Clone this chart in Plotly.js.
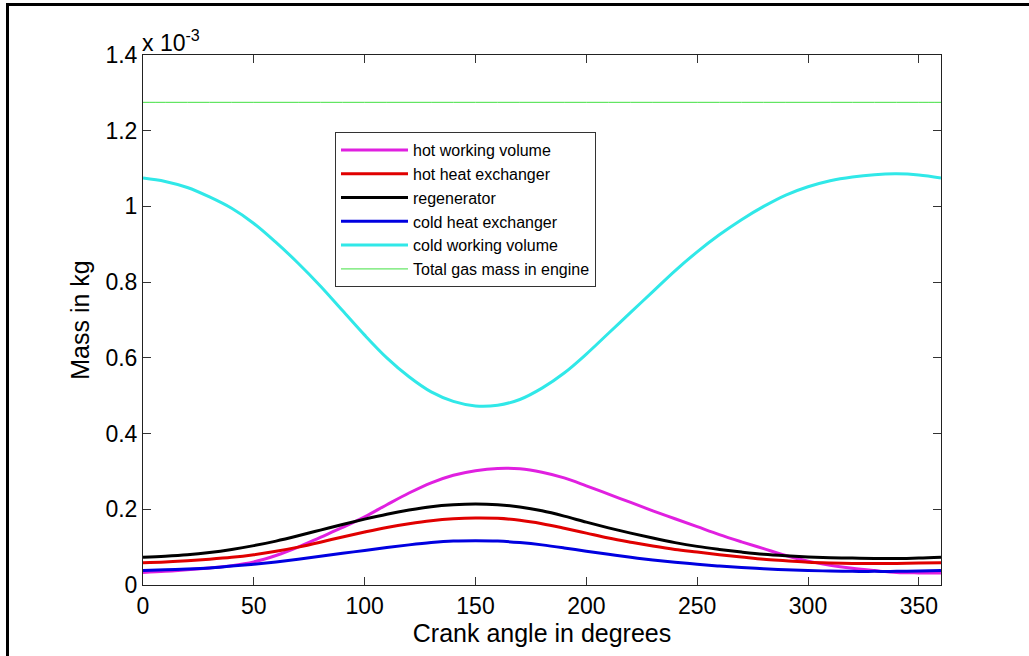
<!DOCTYPE html>
<html>
<head>
<meta charset="utf-8">
<script src="https://cdn.plot.ly/plotly-3.0.1.min.js"></script>
<style>
html,body{margin:0;padding:0;background:#fff;}
#wrap{position:absolute;left:0;top:0;width:1029px;height:656px;overflow:hidden;}
#frame{position:absolute;left:6px;top:3px;width:1040px;height:680px;border-left:3px solid #000;border-top:3px solid #000;box-sizing:border-box;pointer-events:none;z-index:5;}
#chart{position:absolute;left:0;top:0;width:1029px;height:656px;}
</style>
</head>
<body>
<div id="wrap"><div id="chart"></div><div id="frame"></div></div>
<script>
// Crank angle (degrees)
const crankAngle = [0,10,20,30,40,50,60,70,80,90,100,110,120,130,140,150,160,170,180,190,200,210,220,230,240,250,260,270,280,290,300,310,320,330,340,350,360];
// Mass values in units of 1e-3 kg
const hotWorkingVolume = [0.033,0.036,0.040,0.045,0.051,0.061,0.078,0.100,0.126,0.152,0.180,0.212,0.243,0.270,0.290,0.302,0.308,0.307,0.298,0.283,0.262,0.240,0.218,0.196,0.175,0.154,0.133,0.114,0.096,0.078,0.063,0.052,0.044,0.038,0.033,0.032,0.032];
const hotHeatExchanger = [0.059,0.061,0.064,0.068,0.073,0.080,0.089,0.100,0.113,0.127,0.140,0.152,0.162,0.170,0.175,0.177,0.176,0.171,0.162,0.150,0.137,0.124,0.113,0.103,0.094,0.087,0.080,0.074,0.068,0.064,0.060,0.058,0.057,0.057,0.057,0.058,0.059];
const regenerator = [0.073,0.076,0.080,0.086,0.094,0.104,0.116,0.130,0.145,0.160,0.174,0.187,0.198,0.207,0.212,0.214,0.212,0.206,0.196,0.182,0.166,0.151,0.137,0.124,0.112,0.102,0.094,0.087,0.081,0.077,0.074,0.072,0.071,0.070,0.070,0.071,0.073];
const coldHeatExchanger = [0.038,0.040,0.042,0.045,0.050,0.055,0.061,0.068,0.076,0.084,0.091,0.099,0.106,0.112,0.116,0.117,0.116,0.112,0.106,0.098,0.089,0.081,0.073,0.066,0.060,0.055,0.050,0.046,0.043,0.040,0.038,0.037,0.036,0.036,0.036,0.037,0.038];
const coldWorkingVolume = [1.075,1.066,1.050,1.025,0.995,0.955,0.905,0.850,0.790,0.725,0.660,0.600,0.550,0.510,0.485,0.473,0.475,0.490,0.520,0.560,0.610,0.665,0.720,0.775,0.830,0.880,0.925,0.965,1.000,1.030,1.052,1.068,1.078,1.084,1.086,1.083,1.075];
const totalMass = [1.275,1.275,1.275,1.275,1.275,1.275,1.275,1.275,1.275,1.275,1.275,1.275,1.275,1.275,1.275,1.275,1.275,1.275,1.275,1.275,1.275,1.275,1.275,1.275,1.275,1.275,1.275,1.275,1.275,1.275,1.275,1.275,1.275,1.275,1.275,1.275,1.275];

const seriesNames = ["hot working volume","hot heat exchanger","regenerator","cold heat exchanger","cold working volume","Total gas mass in engine"];
const xTicks = [0,50,100,150,200,250,300,350];
const yTicks = [0,0.2,0.4,0.6,0.8,1.0,1.2,1.4];
const yTickLabels = ["0","0.2","0.4","0.6","0.8","1","1.2","1.4"];

const seriesData = [hotWorkingVolume, hotHeatExchanger, regenerator, coldHeatExchanger, coldWorkingVolume, totalMass];
const seriesColors = ["#e020e0","#e00000","#000000","#0000e0","#30e8e8","#40e040"];
const seriesWidths = [3,3,3,3,3,1];

const traces = seriesData.map((ys, i) => ({
  x: crankAngle, y: ys, name: seriesNames[i], type: "scatter", mode: "lines",
  line: {color: seriesColors[i], width: seriesWidths[i], shape: "spline", smoothing: 1}
}));

const font = "Liberation Sans, Arial, sans-serif";
const layout = {
  width: 1029, height: 656,
  margin: {l: 143, r: 88, t: 55, b: 71, pad: 0},
  paper_bgcolor: "#fff", plot_bgcolor: "#fff",
  showlegend: true,
  legend: {x: 0.2406, y: 0.8547, xanchor: "left", yanchor: "top", bgcolor: "#fff", bordercolor: "#333", borderwidth: 1,
           font: {family: font, size: 16, color: "#000"}, itemwidth: 67, tracegroupgap: 0},
  xaxis: {range: [0, 360], tickvals: xTicks, ticks: "inside", ticklen: 8, tickcolor: "#333", showline: true, linecolor: "#222",
          mirror: "ticks", showgrid: false, zeroline: false, tickfont: {family: font, size: 23, color: "#000"},
          title: {text: "Crank angle in degrees", font: {family: font, size: 25, color: "#000"}, standoff: 3}},
  yaxis: {range: [0, 1.4], tickvals: yTicks, ticktext: yTickLabels, ticks: "inside", ticklen: 8, tickcolor: "#333", showline: true, linecolor: "#222",
          mirror: "ticks", showgrid: false, zeroline: false, tickfont: {family: font, size: 23, color: "#000"},
          title: {text: "Mass in kg", font: {family: font, size: 25, color: "#000"}, standoff: 8}},
  annotations: [{xref: "paper", yref: "paper", x: 0, y: 1, xanchor: "left", yanchor: "bottom", showarrow: false,
                 text: "x 10<sup>-3</sup>", font: {family: font, size: 23, color: "#000"}, xshift: -3, yshift: -3}]
};
Plotly.newPlot("chart", traces, layout, {displayModeBar: false, staticPlot: true});
</script>
</body>
</html>
